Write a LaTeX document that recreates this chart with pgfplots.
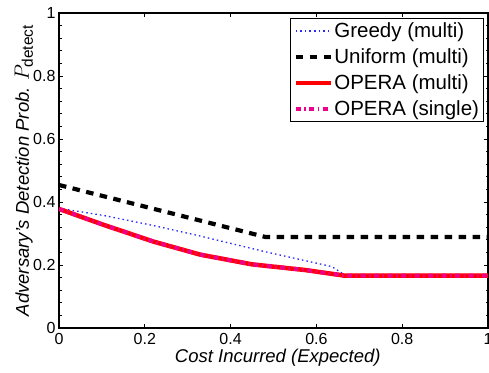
\documentclass[border=0pt]{standalone}
\usepackage{pgfplots}
\pgfplotsset{compat=1.18}
\usepackage{fontspec}
\setmainfont{Liberation Sans}
\setsansfont{Liberation Sans}
\begin{document}
\begin{tikzpicture}
\begin{axis}[
  name=ax,
  scale only axis, width=429pt, height=315pt,
  xmin=0, xmax=1, ymin=0, ymax=1,
  xtick={0,0.2,0.4,0.6,0.8,1}, ytick={0,0.2,0.4,0.6,0.8,1},
  minor y tick num=4,
  tick align=inside,
  major tick length=4pt, minor tick length=2.5pt,
  axis line style={line width=1.2pt},
  every tick/.style={black, line width=0.8pt},
  /pgf/number format/assume math mode=true,
  ticklabel style={font=\fontsize{16}{18}\selectfont},
  xticklabel style={yshift=-2pt},
  xlabel={\itshape Cost Incurred (Expected)},
  ylabel={\itshape Adversary's Detection Prob. {\fontsize{22}{24}\selectfont$P_{\mathrm{detect}}$}},
  label style={font=\fontsize{18.5}{20}\selectfont},
  xlabel style={at={(axis description cs:0.51,-0.095)}, anchor=center},
  ylabel style={at={(axis description cs:-0.082,0.5)}, anchor=center},
  legend style={at={(rel axis cs:1,1)}, anchor=north east, xshift=-4pt, yshift=-5pt,
    draw=black, line width=0.9pt, font=\fontsize{20.5}{22}\selectfont,
    inner sep=3pt, row sep=6.5pt, nodes={inner sep=1.5pt}},
  legend cell align=left,
  legend image code/.code={\draw[#1] (0pt,0pt) -- (35pt,0pt);},
]
\addplot[color={rgb,255:red,40;green,40;blue,255}, line width=1.3pt, dash pattern=on 1.5pt off 3.1pt] coordinates {
(0,0.38) (0.105,0.357) (0.221,0.325) (0.329,0.292) (0.481,0.242) (0.636,0.195) (0.662,0.172) (0.667,0.166) (1,0.166)};
\addlegendentry{Greedy (multi)}
\addplot[black, line width=4.2pt, dash pattern=on 7.5pt off 6.5pt] coordinates {
(0,0.454) (0.481,0.289) (1,0.289)};
\addlegendentry{Uniform (multi)}
\addplot[red, line width=4.5pt] coordinates {
(0,0.378) (0.105,0.327) (0.221,0.274) (0.329,0.233) (0.45,0.202) (0.574,0.184) (0.667,0.166) (1,0.166)};
\addlegendentry{OPERA (multi)}
\addplot[magenta, line width=4pt, dash pattern=on 5pt off 3.5pt on 1.5pt off 3.5pt] coordinates {
(0,0.378) (0.105,0.327) (0.221,0.274) (0.329,0.233) (0.45,0.202) (0.574,0.184) (0.667,0.166) (1,0.166)};
\addlegendentry{OPERA (single)}
\end{axis}
\pgfresetboundingbox
\path[use as bounding box] ([xshift=-59pt,yshift=-44pt]ax.south west) rectangle ([xshift=1pt,yshift=13pt]ax.north east);
\end{tikzpicture}
\end{document}
